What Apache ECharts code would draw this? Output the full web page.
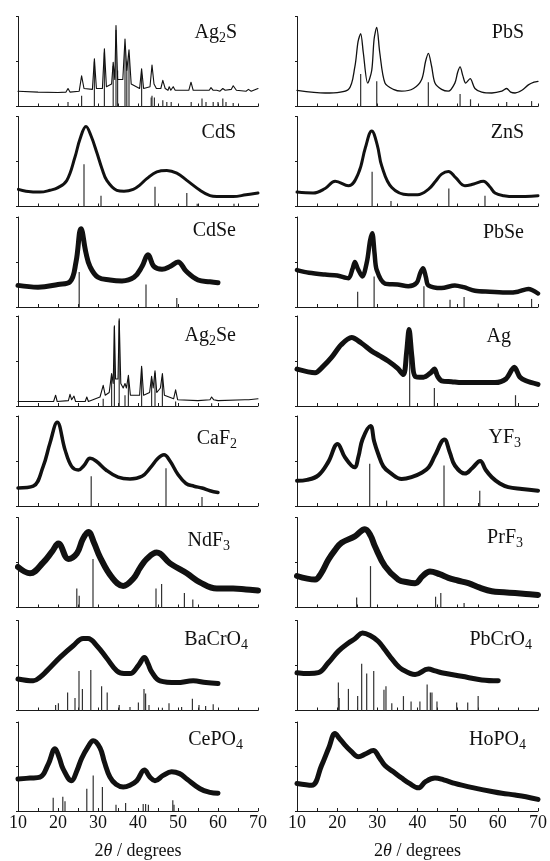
<!DOCTYPE html>
<html>
<head>
<meta charset="utf-8">
<script src="https://cdn.jsdelivr.net/npm/echarts@6/dist/echarts.min.js"></script>
<style>
  html, body { margin: 0; padding: 0; background: #fff; }
  #chart { width: 550px; height: 861px; }
</style>
</head>
<body>
<div id="chart"></div>
<script>
// x ticks (2theta, degrees)
var xTickLabels = [10, 20, 30, 40, 50, 60, 70];

// measured patterns [2theta, relative intensity] and reference sticks
var ag2sPattern = [[10,.17],[15,.16],[20,.155],[22,.16],[22.5,.2],[23,.16],[25.3,.17],[25.9,.34],[26.5,.2],[28.6,.19],[29.1,.53],[29.6,.2],[31.1,.2],[31.6,.64],[32.1,.22],[33.4,.25],[33.8,.49],[34.2,.3],[34.5,.9],[34.9,.3],[36.2,.3],[36.75,.75],[37.2,.4],[37.75,.63],[38.3,.25],[40.4,.2],[40.9,.42],[41.4,.2],[43,.22],[43.5,.46],[44,.25],[44.6,.2],[45.7,.2],[46.2,.29],[46.8,.2],[47.5,.18],[47.8,.22],[48.2,.18],[48.8,.22],[49.3,.18],[52.7,.18],[53.25,.27],[53.8,.18],[57.8,.18],[58.25,.21],[58.8,.18],[59.7,.18],[60,.2],[60.5,.17],[61.2,.2],[61.8,.18],[63.3,.19],[63.8,.23],[64.6,.18],[67,.17],[67.6,.19],[68.3,.17],[70,.2]];
var ag2sSticks = [[22.5,.05],[25.9,.12],[29.1,.5],[31.6,.6],[33.8,.45],[34.5,.85],[34.9,.4],[36.75,.65],[37.2,.5],[37.75,.55],[40.9,.35],[43.3,.1],[43.5,.12],[44.1,.1],[46.2,.07],[47.2,.05],[48.3,.05],[53.3,.05],[56,.09],[57,.05],[58.8,.05],[60,.05],[61.2,.09],[62,.05],[63.8,.04]];

var cdsPattern = [[10.1,.19],[12,.17],[15.5,.16],[18,.18],[20,.21],[22.2,.29],[24.25,.55],[25.5,.75],[27,.89],[28.3,.78],[29.7,.6],[31,.42],[32.2,.29],[34.7,.18],[36.5,.17],[38.8,.19],[40.5,.24],[42.2,.31],[44.7,.385],[47.2,.4],[49.7,.37],[52.2,.29],[55.5,.18],[58,.12],[59.7,.11],[63.8,.11],[67,.13],[70,.15]];
var cdsSticks = [[26.5,.47],[30.75,.12],[44.25,.22],[52.2,.15],[54.8,.03],[64,.03]];

var cdsePattern = [[10,.24],[15,.22],[20,.25],[23,.28],[24.5,.5],[25.75,.87],[27,.6],[28,.45],[30,.33],[33,.3],[36,.29],[39,.33],[41,.45],[42.5,.58],[44,.45],[46,.42],[48,.45],[50,.5],[52,.4],[55,.3],[58,.28],[60,.27]];
var cdseSticks = [[25.3,.39],[42,.25],[49.7,.1]];

var ag2sePattern = [[10,.05],[18.9,.05],[19.4,.12],[19.8,.05],[22.6,.06],[23,.13],[23.4,.07],[24,.11],[24.4,.05],[26.8,.05],[27.2,.1],[27.6,.05],[30.5,.1],[31.3,.23],[31.8,.12],[32.8,.15],[33.4,.36],[33.8,.25],[34.1,.89],[34.4,.3],[34.7,.3],[35,.3],[35.3,.97],[35.7,.25],[36.3,.2],[36.75,.25],[37.1,.2],[37.6,.34],[38.1,.12],[40.4,.12],[40.9,.44],[41.4,.12],[42.9,.15],[43.4,.33],[43.8,.2],[44.25,.39],[44.7,.15],[45.6,.2],[46.1,.36],[46.6,.12],[48.9,.08],[49.4,.18],[49.9,.07],[55,.06],[58,.07],[58.4,.1],[58.9,.07],[60,.06],[66.7,.07],[67.2,.09],[67.7,.07],[70,.08]];
var ag2seSticks = [[31.3,.08],[33.4,.35],[34.1,.88],[35.3,.95],[36.75,.12],[37.6,.3],[40.9,.42],[43.4,.3],[44.25,.37],[46.1,.32],[49.4,.05],[58.4,.03]];

var caf2Pattern = [[10,.2],[13.8,.22],[16.3,.44],[18,.7],[19.8,.93],[21.75,.625],[23.4,.44],[25.1,.4],[26.5,.45],[28,.53],[29.5,.5],[32,.4],[35,.32],[38,.3],[41,.33],[43,.42],[45,.53],[46.5,.57],[48,.5],[50,.35],[52,.25],[54,.22],[56,.2],[58,.17],[60,.15]];
var caf2Sticks = [[28.3,.33],[47,.42],[56,.1]];

var ndf3Pattern = [[10,.45],[13,.38],[16.3,.5],[18.5,.62],[20.1,.71],[22.6,.54],[24.7,.6],[26.2,.76],[27.6,.84],[29,.72],[30.5,.56],[33.4,.34],[36.3,.24],[38.8,.32],[40.5,.44],[42.2,.54],[44.7,.61],[48,.49],[52.2,.38],[55.5,.28],[59.7,.21],[63.8,.21],[67,.2],[70,.19]];
var ndf3Sticks = [[24.7,.21],[25.3,.13],[28.75,.54],[44.5,.21],[45.9,.26],[51.6,.16],[53.7,.09]];

var bacro4Pattern = [[10,.35],[13.8,.33],[15.5,.37],[17.2,.44],[20.5,.59],[23.8,.72],[26.3,.8],[27.5,.8],[29.7,.72],[32.2,.58],[34.7,.44],[36.5,.41],[38,.41],[40.1,.5],[41.6,.59],[42.5,.52],[43.4,.43],[45.5,.33],[49.7,.31],[53.8,.33],[57,.31],[60,.3]];
var bacro4Sticks = [[19.4,.06],[20.1,.08],[22.4,.2],[24.25,.14],[25.25,.44],[26.1,.24],[28.2,.45],[30.9,.27],[32.3,.2],[35.3,.06],[38,.04],[40.1,.09],[41.5,.24],[41.9,.19],[42.75,.06],[46.1,.03],[47.75,.08],[50.9,.04],[53.6,.13],[55.25,.06],[56.9,.05],[58.8,.07]];

var cepo4Pattern = [[10,.36],[13,.37],[15.5,.38],[17.6,.53],[19.25,.7],[20.3,.6],[21.3,.47],[23.4,.34],[24.7,.45],[25.9,.59],[27.5,.72],[28.8,.79],[30.5,.71],[31.6,.55],[33,.38],[34.5,.3],[36.3,.27],[38,.29],[39.7,.34],[41.6,.46],[43,.38],[44.25,.34],[46.3,.4],[48.4,.44],[50.4,.42],[52.2,.36],[55.5,.25],[58,.21],[60,.2]];
var cepo4Sticks = [[18.8,.15],[21.2,.16],[21.75,.11],[27.2,.25],[28.8,.4],[31.1,.27],[34.5,.07],[36.9,.09],[41.3,.08],[41.9,.08],[42.6,.07],[48.7,.12],[49,.07]];

var pbsPattern = [[10,.18],[17,.15],[22.8,.19],[24.4,.44],[25.2,.72],[25.85,.81],[26.5,.6],[27.6,.26],[28.6,.4],[29.2,.75],[29.85,.88],[30.6,.6],[31.9,.26],[34,.19],[36.06,.17],[39,.2],[41.04,.3],[42,.5],[42.7,.59],[43.5,.45],[44.35,.26],[46,.19],[47.67,.17],[49.3,.26],[50,.38],[50.6,.44],[51.3,.34],[52,.26],[53.1,.31],[54.3,.2],[56,.16],[58.5,.15],[61,.17],[62.2,.2],[63.2,.16],[64.3,.15],[66,.18],[67.6,.24],[69,.27],[70,.28]];
var pbsSticks = [[25.85,.36],[29.85,.28],[42.7,.27],[50.6,.14],[53.2,.08],[62.2,.05],[68.4,.06]];

var znsPattern = [[10,.16],[14,.15],[17,.2],[19.5,.28],[22.8,.23],[25.3,.37],[27,.65],[28.6,.84],[30,.68],[31.1,.45],[33.6,.21],[37.7,.13],[40,.13],[42.7,.19],[44.5,.28],[46,.36],[47.7,.39],[49.5,.32],[51.8,.23],[54,.25],[56.4,.28],[58,.22],[59.3,.15],[61.5,.12],[64.3,.11],[70,.12]];
var znsSticks = [[28.7,.385],[33.4,.06],[47.8,.2],[56.8,.12]];

var pbsePattern = [[10,.41],[13,.38],[16.97,.36],[20,.35],[22.8,.32],[23.8,.42],[24.4,.5],[25.2,.42],[26.26,.34],[27.4,.5],[28.2,.74],[28.75,.82],[29.3,.6],[29.85,.41],[31.9,.26],[35,.25],[37.7,.23],[39.8,.27],[40.7,.38],[41.4,.43],[42.1,.33],[42.7,.24],[46,.21],[49.3,.24],[51.5,.22],[54.3,.18],[58,.17],[62.6,.16],[65,.17],[67.6,.2],[70,.15]];
var pbseSticks = [[25.1,.17],[29.2,.34],[41.6,.23],[48.1,.08],[51.6,.11],[60.1,.04],[68.4,.09]];

var agPattern = [[10,.41],[14.5,.37],[16.5,.44],[18.6,.54],[21,.68],[23.6,.76],[26,.7],[28.6,.61],[30.5,.56],[32.7,.5],[35,.42],[36.5,.35],[37.3,.6],[37.9,.85],[38.6,.55],[39.4,.33],[41.5,.32],[43.3,.37],[44.2,.41],[45,.33],[46,.28],[48.5,.27],[51,.26],[55,.26],[59.3,.26],[62,.3],[64.1,.43],[65.5,.32],[67,.28],[70,.24]];
var agSticks = [[38.05,.8],[44.2,.2],[64.4,.12]];

var yf3Pattern = [[10,.28],[12.5,.29],[15.3,.34],[17.8,.49],[20.1,.69],[21.95,.54],[24.3,.43],[25.3,.55],[26.3,.74],[28.3,.89],[29.2,.72],[30.2,.58],[31.5,.44],[33.15,.37],[36.06,.3],[38.5,.32],[41.04,.37],[42.8,.43],[44.35,.56],[46.7,.74],[48,.6],[49.3,.45],[51.8,.36],[53.6,.42],[55.6,.5],[57,.4],[58.5,.32],[60.5,.25],[62.6,.21],[66,.19],[70,.17]];
var yf3Sticks = [[28.1,.47],[32.3,.06],[46.6,.45],[55.5,.17]];

var prf3Pattern = [[10,.35],[14.5,.31],[16,.38],[17.8,.53],[19.5,.64],[21.1,.72],[24.4,.79],[26.9,.87],[28.3,.8],[29.4,.68],[31.9,.46],[35.2,.31],[37.5,.28],[39.4,.27],[41.3,.35],[43.1,.4],[45.5,.37],[47.67,.33],[50,.3],[52.65,.27],[55.5,.22],[58.5,.18],[61.5,.17],[64.3,.16],[67,.15],[70,.14]];
var prf3Sticks = [[24.85,.11],[28.3,.46],[44.5,.12],[45.8,.16],[51.6,.05]];

var pbcro4Pattern = [[10,.42],[13,.41],[15.3,.42],[17.8,.53],[20.3,.66],[22.8,.75],[24.5,.8],[26.3,.86],[28.3,.83],[30.2,.77],[31.8,.68],[33.15,.6],[34.6,.52],[36.06,.46],[39.4,.4],[42.7,.46],[44.4,.44],[46,.42],[51,.38],[56,.34],[60.1,.33]];
var pbcro4Sticks = [[20.3,.31],[20.5,.14],[22.8,.24],[25.1,.16],[26.1,.52],[27.35,.41],[29.1,.44],[31.65,.23],[32.15,.27],[33.6,.08],[36.5,.16],[38.4,.1],[40.6,.1],[42.4,.29],[43.2,.2],[43.6,.2],[44.85,.1],[49.75,.09],[52.5,.09],[55.1,.16]];

var hopo4Pattern = [[10,.31],[13.66,.29],[16.1,.51],[18,.72],[19.46,.87],[20.5,.82],[21.95,.74],[23.5,.67],[25.3,.61],[27,.64],[29,.68],[30.5,.6],[31.9,.51],[34,.44],[36.06,.37],[38,.31],[40.2,.26],[42,.33],[44.35,.37],[46.5,.35],[49.3,.31],[51,.29],[54,.26],[58.5,.22],[61,.2],[64.3,.18],[67,.16],[70,.13]];
var hopo4Sticks = [];

// panel layout: column, row, label, data, line width
var panels = [
  { col: 0, row: 0, label: 'Ag{s|2}S', lx: 237, ly: 33, pattern: ag2sPattern, sticks: ag2sSticks, w: 1.1, smooth: false },
  { col: 0, row: 1, label: 'CdS', lx: 236, ly: 133, pattern: cdsPattern, sticks: cdsSticks, w: 3, smooth: 0.4 },
  { col: 0, row: 2, label: 'CdSe', lx: 236, ly: 231, pattern: cdsePattern, sticks: cdseSticks, w: 5, smooth: 0.4 },
  { col: 0, row: 3, label: 'Ag{s|2}Se', lx: 236, ly: 336, pattern: ag2sePattern, sticks: ag2seSticks, w: 1.1, smooth: false },
  { col: 0, row: 4, label: 'CaF{s|2}', lx: 237, ly: 439, pattern: caf2Pattern, sticks: caf2Sticks, w: 3.5, smooth: 0.4 },
  { col: 0, row: 5, label: 'NdF{s|3}', lx: 230, ly: 541, pattern: ndf3Pattern, sticks: ndf3Sticks, w: 6, smooth: 0.4 },
  { col: 0, row: 6, label: 'BaCrO{s|4}', lx: 248, ly: 640, pattern: bacro4Pattern, sticks: bacro4Sticks, w: 5, smooth: 0.4 },
  { col: 0, row: 7, label: 'CePO{s|4}', lx: 243, ly: 740, pattern: cepo4Pattern, sticks: cepo4Sticks, w: 5, smooth: 0.4 },
  { col: 1, row: 0, label: 'PbS', lx: 524, ly: 33, pattern: pbsPattern, sticks: pbsSticks, w: 1.3, smooth: 0.3 },
  { col: 1, row: 1, label: 'ZnS', lx: 524, ly: 133, pattern: znsPattern, sticks: znsSticks, w: 3, smooth: 0.4 },
  { col: 1, row: 2, label: 'PbSe', lx: 524, ly: 233, pattern: pbsePattern, sticks: pbseSticks, w: 4.5, smooth: 0.3 },
  { col: 1, row: 3, label: 'Ag', lx: 511, ly: 337, pattern: agPattern, sticks: agSticks, w: 5, smooth: 0.3 },
  { col: 1, row: 4, label: 'YF{s|3}', lx: 521, ly: 438, pattern: yf3Pattern, sticks: yf3Sticks, w: 4, smooth: 0.4 },
  { col: 1, row: 5, label: 'PrF{s|3}', lx: 523, ly: 538, pattern: prf3Pattern, sticks: prf3Sticks, w: 6, smooth: 0.4 },
  { col: 1, row: 6, label: 'PbCrO{s|4}', lx: 532, ly: 640, pattern: pbcro4Pattern, sticks: pbcro4Sticks, w: 5, smooth: 0.4 },
  { col: 1, row: 7, label: 'HoPO{s|4}', lx: 526, ly: 740, pattern: hopo4Pattern, sticks: hopo4Sticks, w: 5, smooth: 0.4 }
];

var colLeft = [18, 297];
var colWidth = [240, 241];
var rowBottom = [106.5, 206.5, 307, 406, 506, 607.5, 710.5, 812];
var panelHeight = 90;
var serif = '"Liberation Serif", "DejaVu Serif", serif';
var ink = '#1a1a1a';

var grid = [], xAxis = [], yAxis = [], series = [], graphic = [];

panels.forEach(function (p, i) {
  var isBottom = p.row === 7;
  grid.push({
    left: colLeft[p.col],
    width: colWidth[p.col],
    top: rowBottom[p.row] - panelHeight,
    height: panelHeight
  });
  xAxis.push({
    type: 'value', gridIndex: i, min: 10, max: 70, interval: 10,
    axisLine: { lineStyle: { color: ink, width: 1 } },
    axisTick: { show: true, inside: true, length: 3, lineStyle: { color: ink } },
    minorTick: { show: true, splitNumber: 2, length: 3, lineStyle: { color: ink } },
    splitLine: { show: false },
    axisLabel: {
      show: isBottom, margin: 3, color: '#111', fontFamily: serif, fontSize: 18,
      formatter: function (v) { return xTickLabels.indexOf(v) >= 0 ? String(v) : ''; }
    },
    name: isBottom ? '2{i|θ} / degrees' : '',
    nameLocation: 'middle', nameGap: 31,
    nameTextStyle: {
      color: '#111', fontFamily: serif, fontSize: 18,
      rich: { i: { fontStyle: 'italic', fontFamily: serif, fontSize: 18, color: '#111' } }
    }
  });
  yAxis.push({
    type: 'value', gridIndex: i, min: 0, max: 1, interval: 0.5,
    axisLine: { show: true, lineStyle: { color: ink, width: 1 } },
    axisTick: { show: true, inside: false, length: 2, lineStyle: { color: ink } },
    axisLabel: { show: false },
    splitLine: { show: false }
  });
  series.push({
    type: 'line', xAxisIndex: i, yAxisIndex: i,
    data: p.pattern, symbol: 'none', smooth: p.smooth,
    lineStyle: { color: '#111', width: p.w, join: 'round', cap: 'round' },
    silent: true, animation: false, z: 3
  });
  if (p.sticks.length) {
    series.push({
      type: 'bar', xAxisIndex: i, yAxisIndex: i,
      data: p.sticks, barWidth: 1.2,
      itemStyle: { color: '#333' },
      silent: true, animation: false, z: 2
    });
  }
  graphic.push({
    type: 'text', x: p.lx, y: p.ly, z: 10,
    style: {
      text: p.label, align: 'right', verticalAlign: 'middle',
      fontFamily: serif, fontSize: 20, fill: '#111',
      rich: { s: { fontFamily: serif, fontSize: 14, fill: '#111', padding: [11, 0, 0, 0] } }
    }
  });
});

var chart = echarts.init(document.getElementById('chart'), null, { renderer: 'canvas' });
chart.setOption({
  animation: false,
  backgroundColor: '#fff',
  grid: grid,
  xAxis: xAxis,
  yAxis: yAxis,
  series: series,
  graphic: graphic
});
</script>
</body>
</html>
